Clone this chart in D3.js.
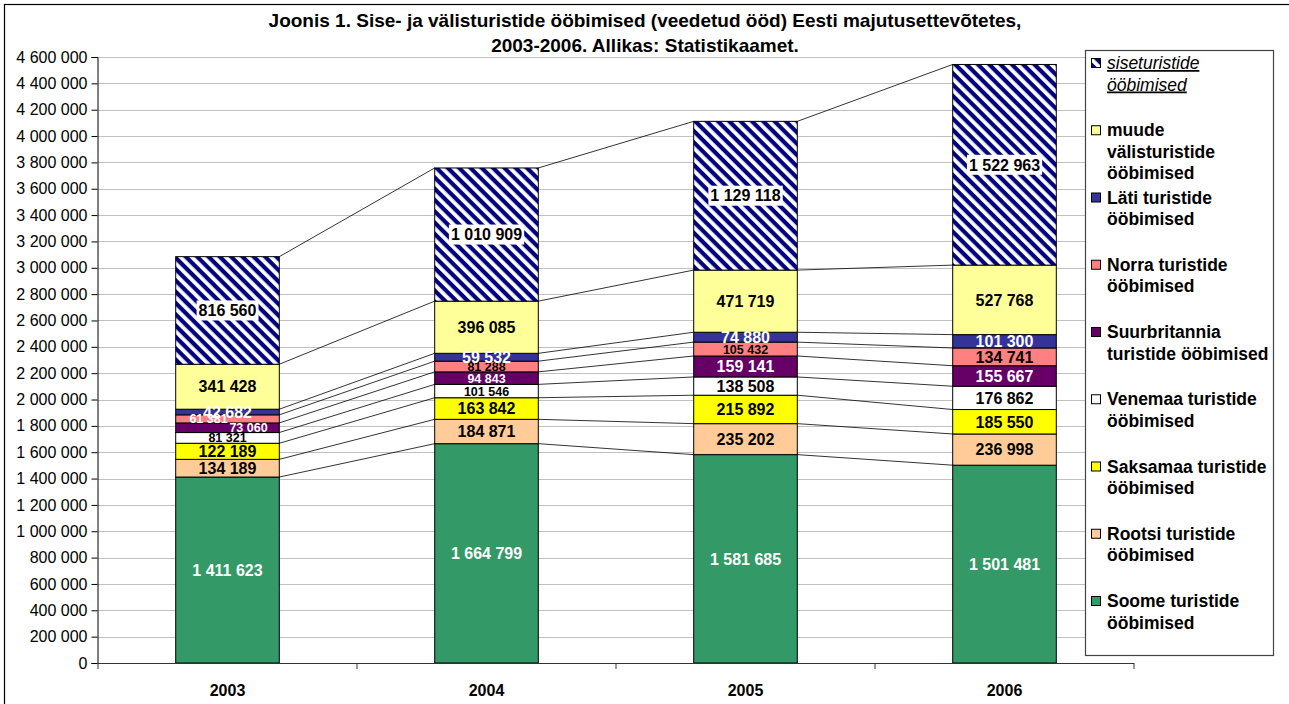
<!DOCTYPE html>
<html><head><meta charset="utf-8">
<script src="https://cdn.jsdelivr.net/npm/d3@7"></script>
<style>
html,body{margin:0;padding:0;background:#fff;}
svg{display:block;font-family:"Liberation Sans",Arial,sans-serif;}
</style></head>
<body>
<svg id="chart" width="1289" height="704"></svg>
<script>
const years = ["2003","2004","2005","2006"];
const seriesNames = ["Soome","Rootsi","Saksamaa","Venemaa","Suurbritannia","Norra","Läti","muude","siseturistide"];
const soome = [1411623,1664799,1581685,1501481];
const rootsi = [134189,184871,235202,236998];
const saksamaa = [122189,163842,215892,185550];
const venemaa = [81321,101546,138508,176862];
const suurbritannia = [73060,94843,159141,155667];
const norra = [61381,81288,105432,134741];
const lati = [42682,59532,74880,101300];
const muude = [341428,396085,471719,527768];
const siseturistide = [816560,1010909,1129118,1522963];
const yTicks = d3.range(0, 4600001, 200000);
const legendLabels = [
  ["Soome turistide","ööbimised"],
  ["Rootsi turistide","ööbimised"],
  ["Saksamaa turistide","ööbimised"],
  ["Venemaa turistide","ööbimised"],
  ["Suurbritannia","turistide ööbimised"],
  ["Norra turistide","ööbimised"],
  ["Läti turistide","ööbimised"],
  ["muude","välisturistide","ööbimised"],
  ["siseturistide","ööbimised"]
];
const titleLines = ["Joonis 1. Sise- ja välisturistide ööbimised (veedetud ööd) Eesti majutusettevõtetes,","2003-2006. Allikas: Statistikaamet."];

const values = [soome,rootsi,saksamaa,venemaa,suurbritannia,norra,lati,muude,siseturistide];
const colors = ["#339966","#FFCC99","#FFFF00","#FFFFFF","#660066","#FF8080","#333399","#FFFF99","url(#hatch)"];
const labelColors = ["#fff","#000","#000","#000","#fff","#000","#fff","#000","#000"];

const svg = d3.select("#chart");
const defs = svg.append("defs");
const pat = defs.append("pattern").attr("id","hatch").attr("patternUnits","userSpaceOnUse")
  .attr("width",8).attr("height",8).attr("patternTransform","rotate(45)");
pat.append("rect").attr("width",8).attr("height",8).attr("fill","#fff");
pat.append("rect").attr("width",8).attr("height",4.2).attr("fill","#000080");

// outer frame
svg.append("rect").attr("x",4.5).attr("y",4.5).attr("width",1295).attr("height",710)
  .attr("fill","none").attr("stroke","#000").attr("stroke-width",1.2);

const fmt = v => d3.format(",")(v).replace(/,/g," ");

const x = d3.scaleBand().domain(years).range([98,1134]).paddingInner(0.6).paddingOuter(0.3);
const y = d3.scaleLinear().domain([0,4600000]).range([663,57]);

// title
svg.append("g").selectAll("text").data(titleLines).join("text")
  .attr("x",645).attr("y",(d,i)=>27+i*25).attr("text-anchor","middle")
  .attr("font-weight","bold").attr("font-size",19).text(d=>d);

// gridlines
svg.append("g").selectAll("line").data(yTicks.filter(d=>d>0)).join("line")
  .attr("x1",98).attr("x2",1134).attr("y1",d=>Math.round(y(d))+0.5).attr("y2",d=>Math.round(y(d))+0.5)
  .attr("stroke","#c0c0c0").attr("stroke-width",1);

// y axis
const yAxis = svg.append("g").attr("transform","translate(97.5,0)")
  .call(d3.axisLeft(y).tickValues(yTicks).tickFormat(fmt).tickSizeOuter(0).tickSize(6).tickPadding(4));
yAxis.select(".domain").attr("stroke","#000");
yAxis.selectAll(".tick line").attr("stroke","#000");
yAxis.selectAll("text").attr("font-size",16).attr("font-family","Liberation Sans, Arial, sans-serif").attr("fill","#000");

// stack
const stackData = years.map((yr,i)=>{const o={year:yr}; seriesNames.forEach((s,k)=>o[s]=values[k][i]); return o;});
const stacked = d3.stack().keys(seriesNames)(stackData);

// series lines
const bw = x.bandwidth();
const connectors = [];
stacked.forEach(layer=>{
  for(let i=0;i<years.length-1;i++){
    connectors.push({x1:x(years[i])+bw, y1:y(layer[i][1]), x2:x(years[i+1]), y2:y(layer[i+1][1])});
  }
});
svg.append("g").selectAll("line").data(connectors).join("line")
  .attr("x1",d=>d.x1).attr("y1",d=>d.y1).attr("x2",d=>d.x2).attr("y2",d=>d.y2)
  .attr("stroke","#000").attr("stroke-width",0.8);

// bars
const barG = svg.append("g");
stacked.forEach((layer,k)=>{
  barG.append("g").selectAll("rect").data(layer).join("rect")
    .attr("x",d=>x(d.data.year)).attr("width",bw)
    .attr("y",d=>y(d[1])).attr("height",d=>y(d[0])-y(d[1]))
    .attr("fill",colors[k]).attr("stroke","#000").attr("stroke-width",1);
});

// x axis
const xAxisG = svg.append("g");
xAxisG.append("line").attr("x1",97).attr("x2",1134).attr("y1",663.5).attr("y2",663.5).attr("stroke","#333").attr("stroke-width",1.2);
const bounds = [0,1,2,3,4].map(i=>x.range()[0] + i*x.step());
xAxisG.selectAll("line.t").data(bounds).join("line").attr("class","t")
  .attr("x1",d=>d).attr("x2",d=>d).attr("y1",663).attr("y2",669).attr("stroke","#333");
xAxisG.selectAll("text").data(years).join("text")
  .attr("x",d=>x(d)+bw/2).attr("y",696).attr("text-anchor","middle")
  .attr("font-weight","bold").attr("font-size",16).text(d=>d);

// labels
const labelShift = {"Norra|2003":-19,"Suurbritannia|2003":21};
const labelColorOverride = {"Norra|2003":"#fff"};
const labG = svg.append("g");
stacked.forEach((layer,k)=>{
  const name = seriesNames[k];
  layer.forEach((d,i)=>{
    const v = d[1]-d[0];
    const key = name+"|"+d.data.year;
    const fs = (v<110000 && name!=="Läti") ? 12.5 : 16;
    const cx = x(d.data.year)+bw/2 + (labelShift[key]||0);
    const cy = (y(d[0])+y(d[1]))/2;
    if(name==="siseturistide"){
      const t = labG.append("text").attr("x",cx).attr("y",cy).attr("dy","0.36em")
        .attr("text-anchor","middle").attr("font-weight","bold").attr("font-size",fs).text(fmt(v));
      const bb = t.node().getBBox();
      labG.insert("rect",()=>t.node()).attr("x",bb.x-2).attr("y",cy-10).attr("width",bb.width+4).attr("height",20).attr("fill","#fff");
    } else {
      labG.append("text").attr("x",cx).attr("y",cy).attr("dy","0.36em")
        .attr("text-anchor","middle").attr("font-weight","bold").attr("font-size",fs)
        .attr("fill",labelColorOverride[key]||labelColors[k]).text(fmt(v));
    }
  });
});

// legend
const lg = svg.append("g");
lg.append("rect").attr("x",1085.5).attr("y",50.5).attr("width",188).attr("height",605)
  .attr("fill","#fff").attr("stroke","#444").attr("stroke-width",1.2);
const order = d3.range(seriesNames.length).reverse();
order.forEach((k,j)=>{
  const cy = 63 + j*67.25;
  lg.append("rect").attr("x",1091.5).attr("y",cy-4.5).attr("width",9).attr("height",9)
    .attr("fill",colors[k]).attr("stroke","#000").attr("stroke-width",1);
  const isSise = seriesNames[k]==="siseturistide";
  const t = lg.append("text").attr("x",1107).attr("font-size",17.5)
    .attr("font-weight",isSise?"normal":"bold").attr("font-style",isSise?"italic":"normal")
    .attr("text-decoration",isSise?"underline":"none");
  legendLabels[k].forEach((line,li)=>{
    t.append("tspan").attr("x",1107).attr("y",cy+6+li*21.5).text(line);
  });
});
</script>
</body></html>
